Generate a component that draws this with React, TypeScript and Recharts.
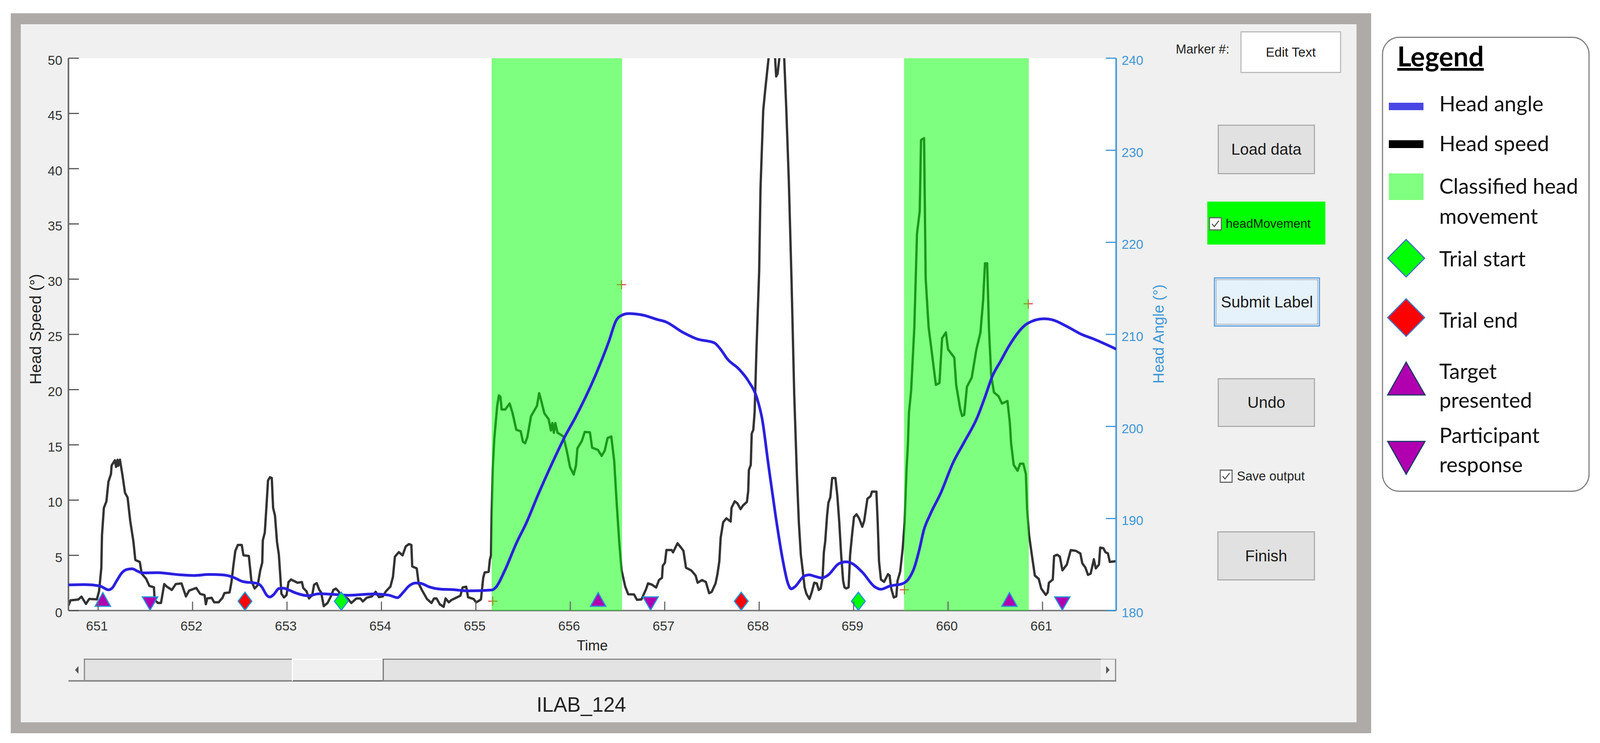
import React from 'react';
import { ComposedChart, Line, Scatter, XAxis, YAxis, ReferenceArea, CartesianGrid, Legend } from 'recharts';

const timeTicks = [651, 652, 653, 654, 655, 656, 657, 658, 659, 660, 661];
const speedTicks = [0, 5, 10, 15, 20, 25, 30, 35, 40, 45, 50];
const angleTicks = [180, 190, 200, 210, 220, 230, 240];
const timeDomain = [650.686, 661.78];

const speedPairs = [
  [650.686, 0.45], [650.708, 0.93], [650.79, 1.0], [650.824, 1.26], [650.871, 0.6], [650.905, 1.05], [650.987, 1.02], [651.01, 1.75], [651.034, 3.87], [651.041, 6.82],
  [651.061, 9.3], [651.088, 9.89], [651.109, 11.65], [651.136, 12.36], [651.143, 13.13], [651.177, 13.6], [651.19, 13.0], [651.205, 13.65], [651.213, 13.1], [651.231, 13.66],
  [651.258, 12.24], [651.285, 10.65], [651.312, 10.24], [651.34, 8.12], [651.374, 6.23], [651.394, 4.58], [651.441, 4.4], [651.462, 3.34], [651.509, 2.87], [651.543, 2.23],
  [651.591, 2.11], [651.598, 0.99], [651.632, 0.69], [651.666, 0.69], [651.7, 2.4], [651.727, 2.17], [651.781, 1.87], [651.822, 2.4], [651.883, 2.46], [651.93, 1.28],
  [651.964, 1.81], [652.039, 2.05], [652.08, 1.52], [652.127, 1.4], [652.141, 0.57], [652.155, 1.1], [652.202, 1.16], [652.229, 0.75], [652.277, 0.75], [652.317, 1.16],
  [652.338, 1.58], [652.392, 1.64], [652.412, 2.58], [652.433, 4.11], [652.453, 5.41], [652.48, 5.94], [652.521, 5.94], [652.539, 5.0], [652.596, 4.94], [652.623, 2.7],
  [652.657, 2.0], [652.69, 2.3], [652.717, 3.64], [652.738, 4.35], [652.744, 6.35], [652.765, 7.06], [652.785, 9.77], [652.799, 11.77], [652.819, 12.07], [652.839, 12.0],
  [652.853, 9.3], [652.873, 8.59], [652.894, 6.23], [652.914, 5.05], [652.928, 3.29], [652.941, 1.52], [652.968, 1.19], [652.995, 1.4], [653.016, 2.58], [653.043, 2.81],
  [653.111, 2.52], [653.158, 2.58], [653.172, 2.05], [653.206, 1.75], [653.233, 1.1], [653.267, 1.4], [653.287, 2.34], [653.315, 2.48], [653.342, 1.87], [653.362, 1.64],
  [653.389, 0.4], [653.43, 0.69], [653.471, 1.4], [653.491, 1.87], [653.518, 1.99], [653.545, 1.75], [653.579, 1.28], [653.64, 1.1], [653.681, 0.69], [653.735, 1.1],
  [653.776, 1.1], [653.803, 0.83], [653.844, 1.16], [653.898, 1.28], [653.939, 1.7], [653.973, 1.22], [654.014, 1.28], [654.048, 1.75], [654.095, 2.17], [654.122, 3.05],
  [654.143, 4.88], [654.184, 5.29], [654.224, 5.0], [654.258, 5.82], [654.292, 6.02], [654.317, 5.94], [654.326, 4.0], [654.374, 3.82], [654.394, 2.46], [654.428, 1.87],
  [654.482, 1.05], [654.53, 0.69], [654.557, 1.1], [654.584, 1.1], [654.618, 0.57], [654.659, 0.34], [654.679, 1.1], [654.713, 0.75], [654.74, 0.95], [654.789, 1.15],
  [654.836, 1.35], [654.86, 2.1], [654.898, 2.16], [654.917, 1.21], [654.976, 1.05], [655.004, 0.74], [655.054, 1.01], [655.078, 2.97], [655.093, 3.45], [655.135, 3.51],
  [655.148, 4.6], [655.16, 5.0], [655.167, 8.79], [655.179, 12.85], [655.195, 15.56], [655.226, 18.53], [655.244, 19.48], [655.26, 19.35], [655.273, 18.2], [655.311, 18.2],
  [655.358, 18.74], [655.389, 17.86], [655.428, 16.37], [655.475, 16.23], [655.498, 15.29], [655.522, 15.15], [655.545, 15.69], [655.584, 17.59], [655.647, 18.53], [655.67, 19.68],
  [655.686, 19.2], [655.725, 17.86], [655.771, 17.32], [655.795, 16.3], [655.81, 16.98], [655.826, 16.1], [655.841, 16.98], [655.865, 16.1], [655.927, 15.76], [655.966, 14.34],
  [655.997, 12.99], [656.036, 12.31], [656.06, 13.12], [656.075, 14.68], [656.122, 15.35], [656.153, 16.17], [656.208, 16.13], [656.231, 14.75], [656.293, 14.54], [656.332, 14.0],
  [656.364, 14.47], [656.395, 15.62], [656.434, 15.76], [656.465, 13.53], [656.488, 10.15], [656.519, 6.09], [656.543, 3.65], [656.582, 2.16], [656.613, 1.48], [656.675, 1.46],
  [656.706, 0.97], [656.753, 1.01], [656.8, 1.89], [656.823, 2.46], [656.862, 2.36], [656.909, 2.09], [656.94, 2.77], [656.971, 2.97], [656.979, 4.05], [657.002, 4.33],
  [657.018, 5.48], [657.073, 5.48], [657.088, 5.27], [657.135, 6.09], [657.178, 5.64], [657.198, 5.41], [657.225, 3.88], [657.28, 3.64], [657.327, 3.17], [657.348, 2.52],
  [657.395, 2.76], [657.436, 2.58], [657.47, 1.58], [657.497, 1.69], [657.538, 2.46], [657.558, 3.29], [657.578, 4.46], [657.592, 6.59], [657.619, 8.0], [657.653, 8.35],
  [657.698, 8.06], [657.707, 9.3], [657.741, 9.89], [657.769, 9.71], [657.803, 9.18], [657.83, 9.53], [657.87, 9.83], [657.884, 10.83], [657.891, 12.72], [657.911, 13.19],
  [657.921, 16.02], [657.938, 16.37], [657.952, 18.0], [657.97, 23.3], [658.0, 30.75], [658.014, 38.2], [658.043, 45.3], [658.066, 47.3], [658.1, 50.04], [658.13, 52.0],
  [658.165, 50.5], [658.18, 48.35], [658.195, 48.6], [658.214, 50.04], [658.24, 52.0], [658.265, 50.0], [658.286, 45.64], [658.314, 38.87], [658.343, 29.73], [658.371, 19.58],
  [658.40, 12.13], [658.42, 8.0], [658.441, 5.05], [658.461, 3.64], [658.481, 2.11], [658.5, 1.52], [658.532, 1.05], [658.556, 1.64], [658.583, 2.52], [658.61, 2.46],
  [658.631, 1.87], [658.651, 1.99], [658.671, 2.93], [658.685, 5.29], [658.699, 6.23], [658.719, 8.59], [658.733, 9.77], [658.753, 10.24], [658.773, 12.0], [658.807, 12.0],
  [658.828, 10.36], [658.848, 8.0], [658.868, 5.05], [658.889, 2.7], [658.903, 2.11], [658.922, 2.0], [658.947, 2.11], [658.963, 5.05], [658.983, 6.82], [659.004, 8.47],
  [659.031, 8.71], [659.058, 8.35], [659.092, 7.59], [659.112, 8.12], [659.146, 10.12], [659.18, 10.36], [659.194, 10.77], [659.241, 10.77], [659.255, 8.0], [659.269, 4.46],
  [659.289, 2.81], [659.323, 2.6], [659.364, 3.29], [659.381, 3.17], [659.398, 2.0], [659.425, 1.19], [659.452, 1.28], [659.465, 2.7], [659.493, 3.52], [659.52, 5.64],
  [659.54, 8.0], [659.56, 12.72], [659.575, 15.07], [659.586, 17.9], [659.609, 19.9], [659.643, 25.67], [659.671, 34.1], [659.7, 36.16], [659.714, 42.6], [659.746, 42.76],
  [659.763, 30.07], [659.794, 25.67], [659.829, 23.3], [659.871, 20.43], [659.909, 20.6], [659.937, 24.66], [659.977, 25.17], [660.0, 23.64], [660.066, 22.9], [660.086, 20.43],
  [660.129, 18.23], [660.149, 17.62], [660.171, 17.72], [660.2, 20.26], [660.251, 21.1], [660.3, 23.64], [660.343, 25.17], [660.371, 28.04], [660.391, 31.43], [660.414, 31.43],
  [660.434, 25.33], [660.457, 21.27], [660.486, 19.75], [660.534, 19.41], [660.571, 18.74], [660.629, 18.97], [660.654, 17.0], [660.668, 15.1], [660.695, 13.19], [660.736, 12.66],
  [660.763, 13.3], [660.797, 13.3], [660.824, 12.36], [660.837, 9.18], [660.858, 6.82], [660.885, 5.17], [660.919, 3.17], [660.96, 2.87], [660.987, 1.99], [661.034, 1.42],
  [661.055, 1.64], [661.068, 2.52], [661.109, 2.81], [661.123, 4.94], [661.157, 5.05], [661.184, 4.88], [661.211, 3.64], [661.258, 4.17], [661.299, 5.47], [661.353, 5.41],
  [661.401, 5.17], [661.421, 4.29], [661.455, 3.88], [661.482, 3.23], [661.51, 3.35], [661.544, 4.64], [661.564, 3.82], [661.598, 4.17], [661.611, 5.7], [661.645, 5.64],
  [661.666, 5.29], [661.693, 5.17], [661.713, 4.4], [661.78, 4.47],
];

const anglePairs = [
  [650.686, 182.79], [650.858, 182.82], [651.02, 182.67], [651.061, 182.46], [651.109, 182.25], [651.15, 182.46], [651.197, 183.24], [651.251, 184.09], [651.306, 184.47], [651.36, 184.54],
  [651.414, 184.3], [651.469, 184.09], [651.632, 184.12], [651.74, 184.02], [651.876, 183.88], [652.012, 183.81], [652.175, 183.92], [652.31, 183.88], [652.42, 183.66], [652.528, 183.17],
  [652.691, 182.93], [652.731, 182.6], [652.785, 181.68], [652.819, 181.47], [652.86, 181.75], [652.914, 182.39], [652.962, 182.43], [653.016, 182.25], [653.097, 181.9], [653.22, 181.61],
  [653.342, 181.82], [653.505, 181.75], [653.64, 181.66], [653.912, 181.8], [654.075, 181.68], [654.17, 181.4], [654.224, 181.9], [654.292, 182.67], [654.36, 182.99], [654.414, 182.96],
  [654.509, 182.56], [654.632, 182.32], [654.727, 182.29], [654.93, 182.14], [655.171, 182.24], [655.21, 182.51], [655.304, 184.3], [655.428, 187.3], [655.537, 189.58], [655.662, 192.66],
  [655.818, 196.23], [655.943, 198.91], [656.052, 200.94], [656.278, 205.84], [656.407, 209.2], [656.485, 211.5], [656.55, 212.1], [656.615, 212.26], [656.771, 212.09], [656.927, 211.6],
  [657.005, 211.39], [657.187, 210.25], [657.342, 209.5], [657.524, 209.09], [657.589, 208.41], [657.667, 207.28], [657.784, 206.25], [657.888, 204.9], [657.979, 203.0], [658.031, 200.84],
  [658.096, 195.97], [658.174, 190.29], [658.251, 185.42], [658.303, 183.0], [658.339, 182.36], [658.38, 182.6], [658.475, 183.74], [658.529, 183.88], [658.583, 183.74], [658.665, 183.55],
  [658.733, 183.88], [658.841, 185.08], [658.92, 185.29], [658.99, 185.08], [659.099, 184.09], [659.221, 182.6], [659.289, 182.32], [659.384, 182.67], [659.52, 182.93], [659.588, 183.52],
  [659.642, 184.65], [659.696, 186.63], [659.744, 188.76], [659.805, 190.31], [659.927, 192.86], [660.049, 195.97], [660.171, 198.3], [660.307, 200.92], [660.386, 203.05], [660.471, 205.5],
  [660.557, 207.1], [660.643, 208.7], [660.843, 211.2], [661.014, 211.7], [661.1, 211.6], [661.27, 210.8], [661.414, 210.0], [661.529, 209.55], [661.78, 208.4],
];

const movementBands = [[655.167, 656.548], [659.534, 660.855]];
const boundaryPairs = [[655.179, 0.85], [656.542, 29.5], [659.537, 1.88], [660.849, 27.77]];
const markerLevel = 0.85;
const targetTimes = [651.05, 656.295, 660.65];
const responseTimes = [651.55, 656.85, 661.21];
const trialStartTimes = [653.575, 659.05];
const trialEndTimes = [652.555, 657.81];

const SANS = '"Liberation Sans", Arial, sans-serif';
const speedData = speedPairs.map(([t, speed]) => ({ t, speed }));
const angleData = anglePairs.map(([t, angle]) => ({ t, angle }));
const boundaryData = boundaryPairs.map(([t, y]) => ({ t, y }));
const atLevel = (times: number[]) => times.map((t) => ({ t, y: markerLevel }));

const MARKER_STROKE = '#2196dc';
const poly = (pts: number[][]) => pts.map((p) => p.join(',')).join(' ');
const Diamond = (fill: string) => (p: any) => (
  <polygon points={poly([[p.cx, p.cy - 23], [p.cx + 18, p.cy], [p.cx, p.cy + 23], [p.cx - 18, p.cy]])} fill={fill} stroke={MARKER_STROKE} strokeWidth={3} />
);
const TriUp = (p: any) => (
  <polygon points={poly([[p.cx, p.cy - 22], [p.cx + 20, p.cy + 13], [p.cx - 20, p.cy + 13]])} fill="#b000b0" stroke={MARKER_STROKE} strokeWidth={3} />
);
const TriDown = (p: any) => (
  <polygon points={poly([[p.cx - 20, p.cy - 11], [p.cx + 20, p.cy - 11], [p.cx, p.cy + 23]])} fill="#b000b0" stroke={MARKER_STROKE} strokeWidth={3} />
);
const Plus = (p: any) => (
  <g stroke="#ff3030" strokeWidth={2.5}>
    <line x1={p.cx - 12} x2={p.cx + 12} y1={p.cy} y2={p.cy} />
    <line x1={p.cx} x2={p.cx} y1={p.cy - 12} y2={p.cy + 12} />
  </g>
);

const xTick = (p: any) => (
  <g>
    <line x1={p.x} x2={p.x} y1={p.y} y2={p.y - 23} stroke="#666" strokeWidth={3} />
    <text x={p.x - 3} y={p.y + 51} textAnchor="middle" fontSize={34} fontFamily={SANS} fill="#333">{p.payload.value}</text>
  </g>
);
const speedTick = (p: any) => (
  <g>
    <line x1={p.x} x2={p.x + 27} y1={p.y} y2={p.y} stroke="#555" strokeWidth={3} />
    <text x={p.x - 16} y={p.y + 17} textAnchor="end" fontSize={34} fontFamily={SANS} fill="#333">{p.payload.value}</text>
  </g>
);
const angleTick = (p: any) => (
  <g>
    <line x1={p.x} x2={p.x - 27} y1={p.y} y2={p.y} stroke="#3f97d6" strokeWidth={3} />
    <text x={p.x + 14} y={p.y + 17} textAnchor="start" fontSize={34} fontFamily={SANS} fill="#3f97d6">{p.payload.value}</text>
  </g>
);

const LEGEND_FONT = 'Lato, "Open Sans", sans-serif';
const LegendText = ({ y, children }: any) => (
  <div style={{ position: 'absolute', left: 146, top: y - 97 - 40, height: 80, lineHeight: '80px', fontSize: 55, fontFamily: LEGEND_FONT, color: '#111', whiteSpace: 'nowrap' }}>{children}</div>
);
const legendContent = () => (
  <div style={{ position: 'relative', width: 540, height: 1165, boxSizing: 'border-box', background: '#fff', border: '3px solid #7f7f7f', borderRadius: 45, marginLeft: 0 }}>
    <div style={{ position: 'absolute', left: 37, top: 8, fontSize: 70, lineHeight: '76px', fontWeight: 700, fontFamily: LEGEND_FONT, color: '#000', textDecoration: 'underline' }}>Legend</div>
    <svg width={540} height={1165} style={{ position: 'absolute', left: -3, top: -3 }}>
      <rect x={18} y={169} width={90} height={19} fill="#4a46e6" />
      <rect x={18} y={265} width={90} height={20} fill="#000" />
      <rect x={18} y={350} width={90} height={68} fill="#80ff80" />
      <polygon points={poly([[63, 519], [111, 567], [63, 615], [15, 567]])} fill="#00ff00" stroke="#4472c4" strokeWidth={3} />
      <polygon points={poly([[63, 671], [111, 719], [63, 767], [15, 719]])} fill="#ff0000" stroke="#4472c4" strokeWidth={3} />
      <polygon points={poly([[63, 833], [112, 917], [15, 917]])} fill="#b000b0" stroke="#1f3864" strokeWidth={3} />
      <polygon points={poly([[15, 1036], [112, 1036], [63, 1120]])} fill="#b000b0" stroke="#1f3864" strokeWidth={3} />
    </svg>
    <LegendText y={264}>Head angle</LegendText>
    <LegendText y={366}>Head speed</LegendText>
    <LegendText y={475}>Classified head</LegendText>
    <LegendText y={552}>movement</LegendText>
    <LegendText y={661}>Trial start</LegendText>
    <LegendText y={818}>Trial end</LegendText>
    <LegendText y={949}>Target</LegendText>
    <LegendText y={1023}>presented</LegendText>
    <LegendText y={1113}>Participant</LegendText>
    <LegendText y={1188}>response</LegendText>
  </div>
);

const Box = ({ l, t, r, b, style, children }: any) => (
  <div style={{ position: 'absolute', left: l, top: t, width: r - l, height: b - t, boxSizing: 'border-box', ...style }}>{children}</div>
);
const Btn = ({ l, t, r, b, size = 40, style, children }: any) => (
  <Box l={l} t={t} r={r} b={b} style={{ background: '#e1e1e1', border: '3px solid #adadad', display: 'flex', alignItems: 'center', justifyContent: 'center', fontSize: size, fontFamily: SANS, color: '#1a1a1a', whiteSpace: 'nowrap', ...style }}>{children}</Box>
);
const Check = ({ l, t }: any) => (
  <svg width={34} height={34} style={{ position: 'absolute', left: l, top: t }}>
    <rect x={1.5} y={1.5} width={31} height={31} fill="#fff" stroke="#666" strokeWidth={3} />
    <polyline points="8,17 14,24 26,9" fill="none" stroke="#444" strokeWidth={2.5} />
  </svg>
);
const Label = ({ x, y, size, children, style }: any) => (
  <div style={{ position: 'absolute', left: x, top: y - size, height: size * 2, lineHeight: `${size * 2}px`, fontSize: size, fontFamily: SANS, color: '#222', whiteSpace: 'nowrap', ...style }}>{children}</div>
);

// The page's window is narrower than the 4160px reference; the layout is kept at
// reference size and squeezed horizontally to fit the window that is really there.
const fitX = () => Math.min(1, window.innerWidth / 4160);

export default function App() {
  return (
    <div style={{ position: 'absolute', left: 0, top: 0, width: 4160, height: 1902, background: '#fff', overflow: 'hidden', transform: `scaleX(${fitX()})`, transformOrigin: '0 0' }}>
      <Box l={28} t={34} r={3565} b={1877} style={{ background: '#aeaaa8' }} />
      <Box l={54} t={62} r={3527} b={1849} style={{ background: '#f0f0f0' }} />
      <div style={{ position: 'absolute', left: 0, top: 0 }}>
        <ComposedChart width={4160} height={1902} margin={{ top: 149, left: 78, right: 1158, bottom: 239 }}>
          <CartesianGrid fill="#fff" horizontal={false} vertical={false} yAxisId="speed" />
          <XAxis zIndex={100} dataKey="t" type="number" domain={timeDomain} ticks={timeTicks} allowDataOverflow height={100} tick={xTick} tickLine={false} tickSize={0} tickMargin={0} axisLine={{ stroke: '#808080', strokeWidth: 4 }} interval={0}
            label={{ value: 'Time', position: 'insideBottom', offset: -2, fontSize: 37, fontFamily: SANS, fill: '#222' }} />
          <YAxis yAxisId="speed" orientation="left" width={100} type="number" domain={[0, 50]} ticks={speedTicks} allowDataOverflow tick={speedTick} tickLine={false} tickSize={0} tickMargin={0} axisLine={{ stroke: '#666', strokeWidth: 4 }} interval={0}
            label={{ value: 'Head Speed (°)', angle: -90, position: 'insideLeft', offset: 0, dx: 14, dy: 128, fontSize: 41, fontFamily: SANS, fill: '#222' }} />
          <YAxis yAxisId="angle" orientation="right" width={100} type="number" domain={[180, 240]} ticks={angleTicks} allowDataOverflow tick={angleTick} tickLine={false} tickSize={0} tickMargin={0} axisLine={{ stroke: '#3f97d6', strokeWidth: 4 }} interval={0}
            label={{ value: 'Head Angle (°)', angle: -90, position: 'insideRight', offset: 0, dx: 10, dy: -128, fontSize: 39, fontFamily: SANS, fill: '#3f97d6' }} />
          <Line zIndex={50} yAxisId="speed" data={speedData} dataKey="speed" type="linear" stroke="#333333" strokeWidth={6} strokeLinejoin="round" dot={false} activeDot={false} isAnimationActive={false} legendType="none" />
          <Scatter zIndex={60} yAxisId="speed" data={boundaryData} dataKey="y" shape={Plus} isAnimationActive={false} legendType="none" />
          {movementBands.map(([x1, x2]) => (
            <ReferenceArea zIndex={200} key={x1} yAxisId="speed" x1={x1} x2={x2} y1={0} y2={50} fill="#00ff00" fillOpacity={0.5} stroke="none" ifOverflow="hidden" />
          ))}
          <Line zIndex={500} yAxisId="angle" data={angleData} dataKey="angle" type="monotoneX" stroke="#2a20e0" strokeWidth={7} dot={false} activeDot={false} isAnimationActive={false} legendType="none" />
          <Scatter yAxisId="speed" data={atLevel(trialStartTimes)} dataKey="y" shape={Diamond('#00ff00')} isAnimationActive={false} legendType="none" />
          <Scatter yAxisId="speed" data={atLevel(trialEndTimes)} dataKey="y" shape={Diamond('#ff0000')} isAnimationActive={false} legendType="none" />
          <Scatter yAxisId="speed" data={atLevel(targetTimes)} dataKey="y" shape={TriUp} isAnimationActive={false} legendType="none" />
          <Scatter yAxisId="speed" data={atLevel(responseTimes)} dataKey="y" shape={TriDown} isAnimationActive={false} legendType="none" />
          <Legend layout="horizontal" verticalAlign="middle" align="center" content={legendContent} wrapperStyle={{ left: 3593, top: 94, width: 540, height: 1165, margin: 0 }} />
        </ComposedChart>
      </div>

      {/* scrollbar */}
      <Box l={178} t={1686} r={2902} b={1745} style={{ background: '#f0f0f0', borderBottom: '4px solid #888' }} />
      <Box l={218} t={1686} r={759} b={1745} style={{ background: '#e3e3e3', borderTop: '3px solid #888', borderLeft: '3px solid #888', borderBottom: '4px solid #888' }} />
      <Box l={759} t={1686} r={995} b={1745} style={{ background: '#f0f0f0', borderLeft: '3px solid #fff', borderTop: '3px solid #fff', borderBottom: '4px solid #777' }} />
      <Box l={995} t={1686} r={2862} b={1745} style={{ background: '#e3e3e3', borderTop: '3px solid #888', borderLeft: '3px solid #777', borderBottom: '4px solid #888' }} />
      <Box l={2862} t={1686} r={2902} b={1745} style={{ background: '#f0f0f0', borderRight: '3px solid #888', borderTop: '3px solid #bbb', borderBottom: '4px solid #888' }} />
      <svg width={12} height={20} style={{ position: 'absolute', left: 194, top: 1705 }}><polygon points="10,0 10,20 1,10" fill="#555" /></svg>
      <svg width={12} height={20} style={{ position: 'absolute', left: 2875, top: 1705 }}><polygon points="1,0 1,20 10,10" fill="#555" /></svg>

      <Label x={1395} y={1804} size={53}>ILAB_124</Label>

      {/* control panel */}
      <Label x={3057} y={126} size={33}>Marker #:</Label>
      <Btn l={3225} t={80} r={3487} b={187} size={34} style={{ background: '#fff', borderColor: '#bbb' }}>Edit Text</Btn>
      <Btn l={3166} t={319} r={3419} b={446} size={41}>Load data</Btn>
      <Box l={3139} t={516} r={3446} b={626} style={{ background: '#00ff00' }} />
      <Check l={3143} t={556} />
      <Label x={3187} y={572} size={32} style={{ color: '#020' }}>headMovement</Label>
      <Btn l={3156} t={710} r={3432} b={836} size={41} style={{ background: '#e5f1fb', border: '3px solid #5a9fe0', outline: '2px dotted #777', outlineOffset: -7 }}>Submit Label</Btn>
      <Btn l={3166} t={968} r={3419} b={1093} size={41}>Undo</Btn>
      <Check l={3171} t={1202} />
      <Label x={3216} y={1219} size={33}>Save output</Label>
      <Btn l={3165} t={1360} r={3419} b={1486} size={41}>Finish</Btn>
    </div>
  );
}
